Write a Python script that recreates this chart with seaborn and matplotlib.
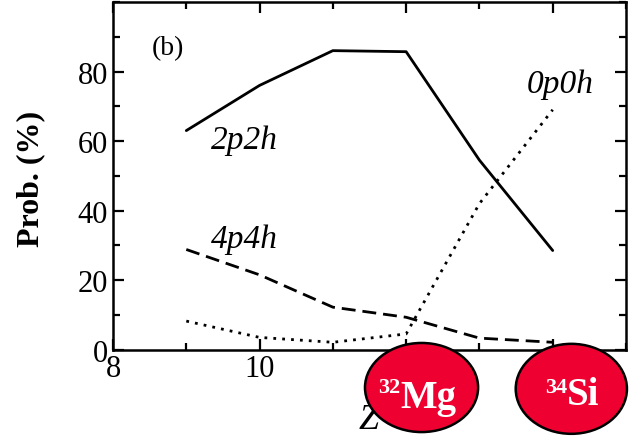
import numpy as np
import pandas as pd
import matplotlib
matplotlib.use('Agg')
import matplotlib.pyplot as plt
from matplotlib.patches import Ellipse
from matplotlib.ticker import MultipleLocator, FixedLocator
import seaborn as sns

# data
z = [9, 10, 11, 12, 13, 14]
p2h = [63, 76, 86, 85.7, 54.5, 28.5]
p4h = [28.8, 21.5, 12.2, 9.3, 3.3, 2.1]
p0h = [8.2, 3.5, 2.1, 4.5, 42, 69]

mass = ['32', '34']
elem = ['Mg', 'Si']

sns.set_style('ticks')
plt.rcParams['font.family'] = ['Liberation Serif', 'DejaVu Serif']
for k in ['text.color', 'axes.labelcolor', 'xtick.color', 'ytick.color', 'axes.edgecolor']:
    plt.rcParams[k] = 'black'

fig = plt.figure(figsize=(6.32, 4.39), dpi=100)
ax = fig.add_axes([0.1788, 0.2014, 0.8117, 0.7918])

df = pd.DataFrame({'Z': z, '2p2h': p2h, '4p4h': p4h, '0p0h': p0h})
sns.lineplot(data=df, x='Z', y='2p2h', ax=ax, color='black', lw=2)
sns.lineplot(data=df, x='Z', y='4p4h', ax=ax, color='black', lw=2)
ax.lines[-1].set_dashes((5, 2.5))
sns.lineplot(data=df, x='Z', y='0p0h', ax=ax, color='black', lw=2)
ax.lines[-1].set_dashes((1, 2.2))

ax.set_xlim(8, 15)
ax.set_ylim(0, 100)
ax.xaxis.set_major_locator(MultipleLocator(2))
ax.xaxis.set_minor_locator(MultipleLocator(1))
ax.yaxis.set_major_locator(FixedLocator([0, 20, 40, 60, 80]))
ax.yaxis.set_minor_locator(MultipleLocator(10))
ax.tick_params(which='both', direction='in', top=True, right=True, width=1.6, labelsize=22)
ax.tick_params(which='major', length=8)
ax.tick_params(which='minor', length=5)
for s in ax.spines.values():
    s.set_linewidth(1.8)

ax.set_ylabel('Prob. (%)', fontsize=23, fontweight='bold')
ax.yaxis.set_label_coords(-0.133, 0.494)
ax.set_xlabel('')
ax.text(0.499, -0.2, 'Z', transform=ax.transAxes, fontsize=26, fontstyle='italic',
        ha='center', va='center')

ax.text(8.75, 87, '(b)', fontsize=20, ha='center', va='center')
ax.text(9.8, 60.5, '2p2h', fontsize=24, fontstyle='italic', ha='center', va='center')
ax.text(9.8, 32, '4p4h', fontsize=24, fontstyle='italic', ha='center', va='center')
ax.text(14.1, 76.5, '0p0h', fontsize=24, fontstyle='italic', ha='center', va='center')

# nucleus badges
badges = [(0.667, 0.115, 0.179, 0.203, 0.633, 0.0706), (0.904, 0.112, 0.176, 0.205, 0.897, 0.0774)]
for (cx, cy, w, h, jx, by), a, el in zip(badges, mass, elem):
    e = Ellipse((cx, cy), w, h, transform=fig.transFigure, facecolor='#ee0030',
                edgecolor='black', lw=1.8, zorder=5)
    fig.add_artist(e)
    fig.text(jx, by, el, color='white', fontsize=28, fontweight='bold',
             ha='left', va='baseline', zorder=6)
    fig.text(jx, 0.1048, a, color='white', fontsize=16, fontweight='bold',
             ha='right', va='baseline', zorder=6)

fig.savefig('out.png', dpi=100)
